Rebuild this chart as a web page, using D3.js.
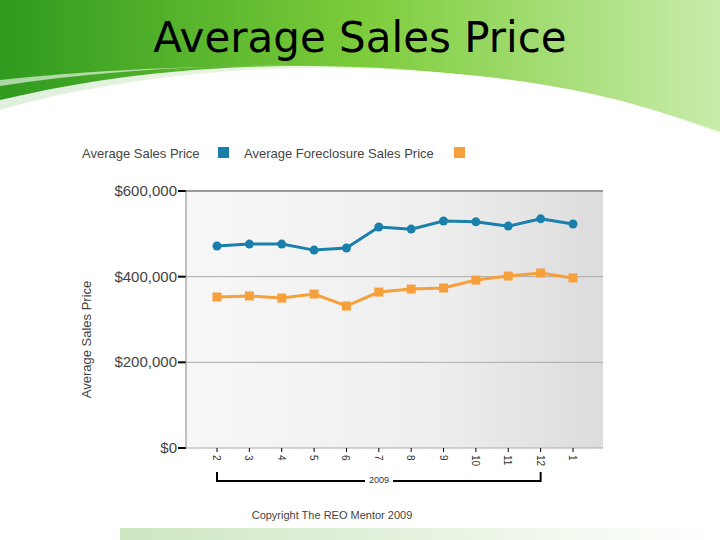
<!DOCTYPE html><html><head><meta charset="utf-8"><script src="https://cdn.jsdelivr.net/npm/d3@7"></script>
<style>body{margin:0;background:#fff}</style></head><body><svg id="c" width="720" height="540"></svg><script>
const months=["2","3","4","5","6","7","8","9","10","11","12","1"];
const avgSales=[471600,476000,476000,462000,467000,516000,511000,530000,528000,518000,535000,523000];
const foreclosure=[352500,355000,350000,359500,331500,364000,371000,373500,392000,401500,408500,397000];
const yTicks=[0,200000,400000,600000];
const svg=d3.select("#c");
const defs=svg.append("defs");
const g1=defs.append("linearGradient").attr("id","hg");
g1.append("stop").attr("offset","0").attr("stop-color","#2f9a1e");
g1.append("stop").attr("offset","0.5").attr("stop-color","#7ccc3a");
g1.append("stop").attr("offset","1").attr("stop-color","#c8ecaa");
const g2=defs.append("linearGradient").attr("id","bg");
g2.append("stop").attr("offset","0").attr("stop-color","#cde6c0");
g2.append("stop").attr("offset","1").attr("stop-color","#fff");
const g3=defs.append("linearGradient").attr("id","pg");
g3.append("stop").attr("offset","0").attr("stop-color","#f7f7f7");
g3.append("stop").attr("offset","0.6").attr("stop-color","#eeeeee");
g3.append("stop").attr("offset","1").attr("stop-color","#dcdcdc");
svg.append("path").attr("d","M0,0 H720 V135 C600,80 420,62 250,70 C140,76 50,95 0,110 Z").attr("fill","url(#hg)");
svg.append("path").attr("d","M0,112 C60,92 160,72 300,72 C450,72 600,95 720,140 V132 C600,88 450,66 300,66 C160,66 60,86 0,100 Z").attr("fill","#fff").attr("opacity",0.85);
svg.append("path").attr("d","M0,86 C120,68 260,60 420,70 C300,62 130,66 0,80 Z").attr("fill","#fff").attr("opacity",0.6);
svg.append("rect").attr("x",120).attr("y",528).attr("width",600).attr("height",12).attr("fill","url(#bg)");
svg.append("text").attr("x",360).attr("y",52).attr("text-anchor","middle").attr("font-family","'Comic Sans MS','DejaVu Sans'").attr("font-size",42).text("Average Sales Price");
const L=186,R=603,T=191,B=448;
const x=d3.scalePoint().domain(months).range([217,573]);
const y=d3.scaleLinear().domain([0,600000]).range([B,T]);
svg.append("rect").attr("x",L).attr("y",T).attr("width",R-L).attr("height",B-T).attr("fill","url(#pg)");
yTicks.forEach(t=>{svg.append("line").attr("x1",L).attr("x2",R).attr("y1",y(t)).attr("y2",y(t)).attr("stroke",t==600000?"#999":"#aaa").attr("stroke-width",t==600000?2:1);
svg.append("line").attr("x1",L-8).attr("x2",L).attr("y1",y(t)).attr("y2",y(t)).attr("stroke","#000").attr("stroke-width",2);
svg.append("text").attr("x",L-9).attr("y",y(t)+5).attr("text-anchor","end").attr("font-family","Liberation Sans").attr("font-size",15).attr("fill","#444").text("$"+d3.format(",")(t));});
svg.append("line").attr("x1",L).attr("x2",L).attr("y1",T).attr("y2",B).attr("stroke","#888");
months.forEach(m=>{const xx=x(m);svg.append("line").attr("x1",xx).attr("x2",xx).attr("y1",B).attr("y2",B+4).attr("stroke","#000");
svg.append("text").attr("transform",`translate(${xx-4},${B+7}) rotate(90)`).attr("font-family","Liberation Sans").attr("font-size",10).attr("fill","#333").text(m);});
svg.append("path").attr("d",`M${x("2")},${B+24} V${B+33} H${x("12")} V${B+24}`).attr("fill","none").attr("stroke","#000").attr("stroke-width",2);
svg.append("rect").attr("x",365).attr("y",B+26).attr("width",28).attr("height",12).attr("fill","#fff");
svg.append("text").attr("x",379).attr("y",B+35).attr("text-anchor","middle").attr("font-family","Liberation Sans").attr("font-size",9).attr("fill","#333").text("2009");
svg.append("text").attr("transform",`translate(91,${(T+B)/2+50}) rotate(-90)`).attr("font-family","Liberation Sans").attr("font-size",13).attr("fill","#444").attr("text-anchor","middle").text("Average Sales Price").attr("x",30);
const line=d3.line().x((d,i)=>x(months[i])).y(d=>y(d));
svg.append("path").attr("d",line(avgSales)).attr("fill","none").attr("stroke","#1a80ab").attr("stroke-width",3);
svg.selectAll(".b").data(avgSales).enter().append("circle").attr("cx",(d,i)=>x(months[i])).attr("cy",d=>y(d)).attr("r",4.5).attr("fill","#1a80ab");
svg.append("path").attr("d",line(foreclosure)).attr("fill","none").attr("stroke","#f5a03a").attr("stroke-width",3);
svg.selectAll(".o").data(foreclosure).enter().append("rect").attr("x",(d,i)=>x(months[i])-4.5).attr("y",d=>y(d)-4.5).attr("width",9).attr("height",9).attr("fill","#f5a03a");
svg.append("text").attr("x",82).attr("y",158).attr("font-family","Liberation Sans").attr("font-size",13).attr("fill","#444").text("Average Sales Price");
svg.append("rect").attr("x",218).attr("y",147).attr("width",11).attr("height",11).attr("fill","#1a80ab");
svg.append("text").attr("x",244).attr("y",158).attr("font-family","Liberation Sans").attr("font-size",13).attr("fill","#444").text("Average Foreclosure Sales Price");
svg.append("rect").attr("x",454).attr("y",147).attr("width",11).attr("height",11).attr("fill","#f5a03a");
svg.append("text").attr("x",332).attr("y",519).attr("text-anchor","middle").attr("font-family","Liberation Sans").attr("font-size",11).attr("fill","#444").text("Copyright The REO Mentor 2009");
</script></body></html>
